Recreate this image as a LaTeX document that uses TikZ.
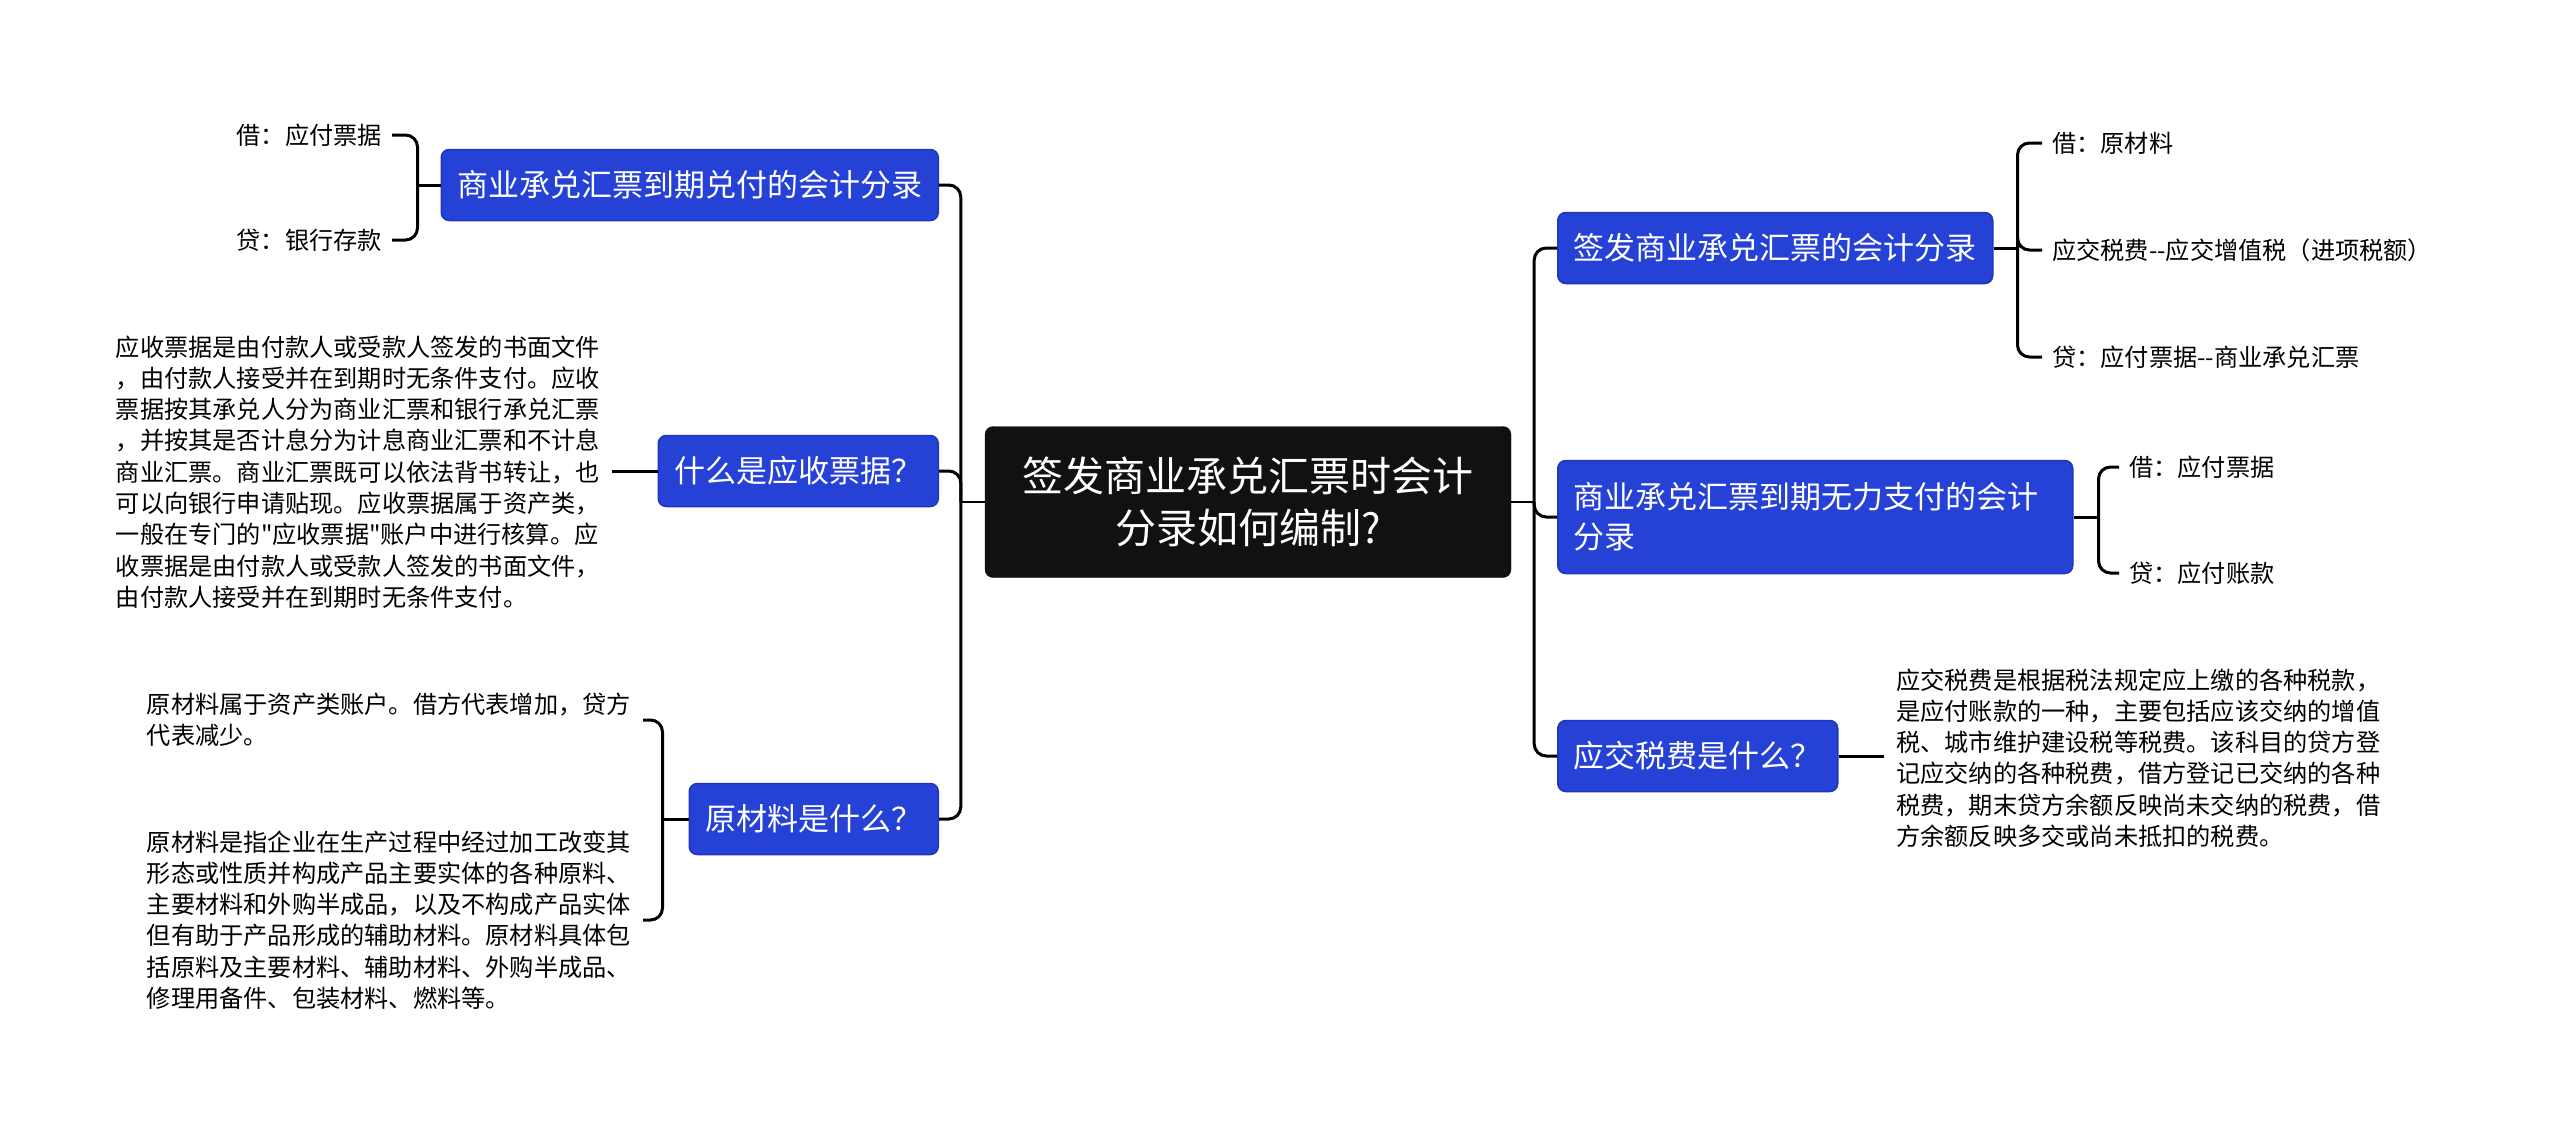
\documentclass[tikz,border=0pt]{standalone}
\usepackage{fontspec}
\newfontfamily\cjk{Noto Sans CJK SC}
\usepackage{xcolor}
\usetikzlibrary{positioning,calc}

\definecolor{boxblue}{HTML}{2541D6}
\definecolor{boxedge}{HTML}{1E36B8}
\definecolor{rootfill}{HTML}{111111}

\tikzset{
	rootbox/.style={draw=rootfill, fill=rootfill, text=white, rounded corners=8pt,
		minimum width=526pt, minimum height=151pt, align=center,
		font=\cjk\fontsize{41}{52}\selectfont},
	topicbox/.style={draw=boxedge, line width=1.5pt, fill=boxblue, text=white, rounded corners=8pt,
		inner xsep=16pt, minimum height=71pt, align=left,
		font=\cjk\fontsize{31}{41}\selectfont},
	leaf/.style={inner xsep=10pt, inner ysep=2pt, align=left,
		font=\cjk\fontsize{24.2}{31.3}\selectfont},
	para/.style={inner xsep=12pt, inner ysep=0pt, align=left,
		font=\cjk\fontsize{24.2}{31.3}\selectfont},
	link/.style={line width=3pt, rounded corners=12pt},
	stub/.style={line width=2pt},
}

\begin{document}
\begin{tikzpicture}[x=1pt, y=-1pt]
	\useasboundingbox (0,0) rectangle (2560,1130);

	% centre
	\node[rootbox] (root) at (1248,502) {签发商业承兑汇票时会计\\分录如何编制?};

	% right side topics
	\node[topicbox, anchor=west] (sign) at (1557,248) {签发商业承兑汇票的会计分录};
	\node[topicbox, anchor=west, text width=483pt, minimum height=113pt,
		font=\cjk\fontsize{31}{40}\selectfont] (unpaid) at (1557,517) {商业承兑汇票到期无力支付的会计\\分录};
	\node[topicbox, anchor=west] (taxq) at (1557,756) {应交税费是什么？};

	% left side topics
	\node[topicbox, anchor=east] (paid) at (939,185) {商业承兑汇票到期兑付的会计分录};
	\node[topicbox, anchor=east] (billq) at (939,471) {什么是应收票据？};
	\node[topicbox, anchor=east] (matq) at (939,819) {原材料是什么？};

	% leaves, right
	\node[leaf, anchor=west] (signa) at (2042,143) {借：原材料};
	\node[leaf, anchor=west] (signb) at (2042,250) {应交税费-{}-应交增值税（进项税额）};
	\node[leaf, anchor=west] (signc) at (2042,357) {贷：应付票据-{}-商业承兑汇票};
	\node[leaf, anchor=west] (unpaida) at (2119,467) {借：应付票据};
	\node[leaf, anchor=west] (unpaidb) at (2119,573) {贷：应付账款};
	\node[para, anchor=west] (taxtxt) at (1884,758) {应交税费是根据税法规定应上缴的各种税款，\\
		是应付账款的一种，主要包括应该交纳的增值\\
		税、城市维护建设税等税费。该科目的贷方登\\
		记应交纳的各种税费，借方登记已交纳的各种\\
		税费，期末贷方余额反映尚未交纳的税费，借\\
		方余额反映多交或尚未抵扣的税费。};

	% leaves, left
	\node[leaf, anchor=east] (paida) at (392,135) {借：应付票据};
	\node[leaf, anchor=east] (paidb) at (392,240) {贷：银行存款};
	\node[para, anchor=east] (billtxt) at (612,472) {应收票据是由付款人或受款人签发的书面文件\\
		，由付款人接受并在到期时无条件支付。应收\\
		票据按其承兑人分为商业汇票和银行承兑汇票\\
		，并按其是否计息分为计息商业汇票和不计息\\
		商业汇票。商业汇票既可以依法背书转让，也\\
		可以向银行申请贴现。应收票据属于资产类，\\
		一般在专门的"应收票据"账户中进行核算。应\\
		收票据是由付款人或受款人签发的书面文件，\\
		由付款人接受并在到期时无条件支付。};
	\node[para, anchor=east] (mattxta) at (643,720) {原材料属于资产类账户。借方代表增加，贷方\\
		代表减少。};
	\node[para, anchor=east] (mattxtb) at (643,920) {原材料是指企业在生产过程中经过加工改变其\\
		形态或性质并构成产品主要实体的各种原料、\\
		主要材料和外购半成品，以及不构成产品实体\\
		但有助于产品形成的辅助材料。原材料具体包\\
		括原料及主要材料、辅助材料、外购半成品、\\
		修理用备件、包装材料、燃料等。};

	% junctions
	\coordinate (jr) at ([xshift=23pt]root.east);
	\coordinate (jl) at ([xshift=-24pt]root.west);
	\coordinate (jsign) at ([xshift=24pt]sign.east);
	\coordinate (junpaid) at ([xshift=25pt]unpaid.east);
	\coordinate (jpaid) at ([xshift=-23pt]paid.west);
	\coordinate (jmat) at ([xshift=-26pt]matq.west);

	% connectors
	\draw[stub] (root.east) -- (jr);
	\draw[stub] (root.west) -- (jl);
	\foreach \t in {sign,unpaid,taxq}
		\draw[link] (jr) |- (\t.west);
	\foreach \t in {paid,billq,matq}
		\draw[link] (jl) |- (\t.east);

	\draw[link] (sign.east) -- (jsign);
	\foreach \t in {signa,signb,signc}
		\draw[link] (jsign) |- (\t.west);
	\draw[link] (unpaid.east) -- (junpaid);
	\foreach \t in {unpaida,unpaidb}
		\draw[link] (junpaid) |- (\t.west);
	\draw[link] (taxq.east) -- (taxq.east -| taxtxt.west);

	\draw[link] (paid.west) -- (jpaid);
	\foreach \t in {paida,paidb}
		\draw[link] (jpaid) |- (\t.east);
	\draw[link] (billq.west) -- (billq.west -| billtxt.east);
	\draw[link] (matq.west) -- (jmat);
	\foreach \t in {mattxta,mattxtb}
		\draw[link] (jmat) |- (\t.east);
\end{tikzpicture}
\end{document}
